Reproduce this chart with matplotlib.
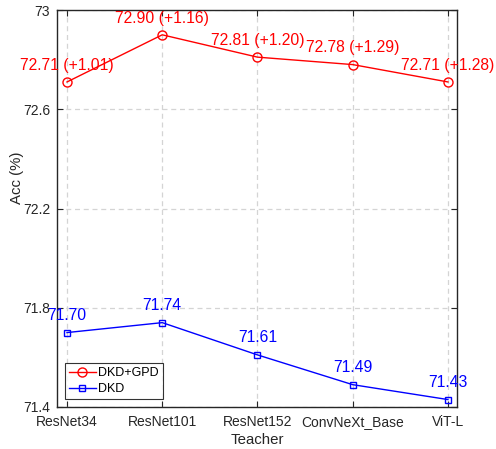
import numpy as np
import matplotlib.pyplot as plt

plt.rcParams['font.family'] = ['Liberation Sans', 'DejaVu Sans']

teachers = ['ResNet34', 'ResNet101', 'ResNet152', 'ConvNeXt_Base', 'ViT-L']
accGPD = [72.71, 72.90, 72.81, 72.78, 72.71]
gainGPD = [1.01, 1.16, 1.20, 1.29, 1.28]
accDKD = [71.70, 71.74, 71.61, 71.49, 71.43]
yTicks = [71.4, 71.8, 72.2, 72.6, 73]

x = np.arange(len(teachers))
axColor = '#262626'

fig = plt.figure(figsize=(4.96, 4.49), dpi=100)
ax = fig.add_axes([57/496, 42/449, 400/496, 397/449])

ax.plot(x, accGPD, '-o', color='red', lw=1, ms=6.5, mfc='none', mew=1, label='DKD+GPD')
ax.plot(x, accDKD, '-s', color='blue', lw=1, ms=5, mfc='none', mew=1, label='DKD')

for xi, a, g in zip(x, accGPD, gainGPD):
    ax.annotate('%.2f (+%.2f)' % (a, g), (xi, a), xytext=(0, 12), textcoords='offset points',
                ha='center', va='center', color='red', fontsize=11.3)
for xi, a in zip(x, accDKD):
    ax.annotate('%.2f' % a, (xi, a), xytext=(0, 12.5), textcoords='offset points',
                ha='center', va='center', color='blue', fontsize=11.3)

ax.set_xlim(-0.105, 4.095)
ax.set_ylim(71.4, 73)
ax.set_xticks(x)
ax.set_xticklabels(teachers)
ax.set_yticks(yTicks)
ax.set_yticklabels(['71.4', '71.8', '72.2', '72.6', '73'])
ax.grid(True, ls=(0, (4, 3)), color='#d4d4d4', lw=0.9)
ax.tick_params(direction='in', length=4, width=0.8, colors=axColor, labelsize=10,
               top=True, right=True, labelcolor=axColor)
ax.tick_params(axis='x', pad=6)
ax.tick_params(axis='y', pad=5)
for s in ax.spines.values():
    s.set_color(axColor)
    s.set_linewidth(1)
ax.set_xlabel('Teacher', fontsize=10.8, color=axColor, labelpad=3)
ax.set_ylabel('Acc (%)', fontsize=10.8, color=axColor)
ax.yaxis.set_label_coords(-0.083, 0.577)

leg = ax.legend(loc='lower left', fontsize=9, frameon=True, fancybox=False,
                edgecolor='black', borderpad=0.3, labelspacing=0.35, handlelength=2.15,
                handletextpad=0.2, borderaxespad=0.64)
leg.get_frame().set_linewidth(0.8)

plt.savefig('out.png', dpi=100)
